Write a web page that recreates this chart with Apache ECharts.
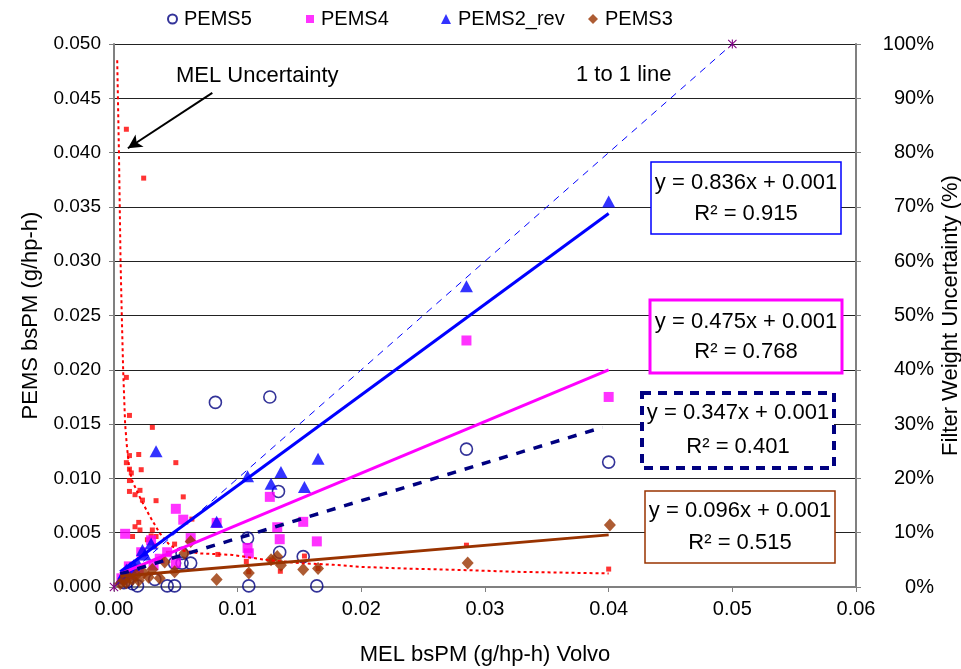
<!DOCTYPE html>
<html><head><meta charset="utf-8">
<script src="https://cdn.jsdelivr.net/npm/echarts@6/dist/echarts.min.js"></script>
<style>html,body{margin:0;padding:0;background:#fff}#c{width:961px;height:669px}</style>
</head><body><div id="c"></div>
<script>
const FONT = 'Liberation Sans, Arial, sans-serif';
const xTickLabels = ['0.00','0.01','0.02','0.03','0.04','0.05','0.06'];
const yTickLabels = ['0.000','0.005','0.010','0.015','0.020','0.025','0.030','0.035','0.040','0.045','0.050'];
const y2TickLabels = ['0%','10%','20%','30%','40%','50%','60%','70%','80%','90%','100%'];

const pems5 = [[0.0008,0.0004],[0.0011,0.0005],[0.0015,0.0003],[0.0019,0.0001],[0.0033,0.0007],[0.0043,0.0001],[0.0049,0.0001],[0.0049,0.0022],[0.0055,0.0031],[0.0055,0.0022],[0.0062,0.0022],[0.0082,0.0170],[0.0108,0.0045],[0.0109,0.0001],[0.0126,0.0175],[0.0133,0.0088],[0.0134,0.0032],[0.0153,0.0028],[0.0164,0.0001],[0.0285,0.0127],[0.0400,0.0115]];
const pems4 = [[0.0006,0.0008],[0.0009,0.0049],[0.0012,0.0019],[0.0015,0.0012],[0.0020,0.0016],[0.0022,0.0032],[0.0030,0.0043],[0.0032,0.0020],[0.0037,0.0026],[0.0043,0.0032],[0.0050,0.0072],[0.0050,0.0022],[0.0056,0.0062],[0.0062,0.0045],[0.0083,0.0059],[0.0108,0.0036],[0.0109,0.0031],[0.0126,0.0083],[0.0132,0.0055],[0.0134,0.0044],[0.0153,0.0060],[0.0164,0.0042],[0.0285,0.0227],[0.0400,0.0175]];
const pems2rev = [[0.0006,0.0008],[0.0008,0.0013],[0.0010,0.0016],[0.0013,0.0018],[0.0016,0.0020],[0.0019,0.0022],[0.0023,0.0034],[0.0025,0.0030],[0.0030,0.0040],[0.0034,0.0125],[0.0083,0.0060],[0.0108,0.0102],[0.0127,0.0095],[0.0135,0.0106],[0.0154,0.0092],[0.0165,0.0118],[0.0285,0.0277],[0.0400,0.0355]];
const pems3 = [[0.0005,0.0003],[0.0008,0.0006],[0.0010,0.0004],[0.0012,0.0009],[0.0015,0.0007],[0.0018,0.0011],[0.0020,0.0006],[0.0024,0.0013],[0.0028,0.0009],[0.0031,0.0016],[0.0037,0.0008],[0.0041,0.0023],[0.0049,0.0014],[0.0057,0.0031],[0.0062,0.0042],[0.0083,0.0007],[0.0109,0.0013],[0.0127,0.0025],[0.0132,0.0028],[0.0135,0.0020],[0.0153,0.0016],[0.0165,0.0017],[0.0286,0.0022],[0.0401,0.0057]];

// MEL filter-weight uncertainty (%), right axis
const melUncPoints = [[0.0010,84.3],[0.0024,75.3],[0.0010,38.6],[0.00125,31.6],[0.0031,29.4],[0.0020,24.4],[0.00125,24.2],[0.0010,22.9],[0.0050,22.9],[0.00125,21.7],[0.0022,21.6],[0.0014,21.0],[0.00125,19.6],[0.00125,17.6],[0.0017,17.0],[0.0021,17.8],[0.0023,16.0],[0.0034,15.9],[0.0056,16.6],[0.0063,12.5],[0.0020,11.9],[0.0017,11.1],[0.0021,10.5],[0.0031,10.5],[0.0015,9.3],[0.0030,9.4],[0.0034,9.3],[0.0027,8.7],[0.0033,7.6],[0.0049,7.9],[0.0044,6.2],[0.0084,6.0],[0.0037,5.0],[0.0107,4.7],[0.0127,5.0],[0.0154,5.7],[0.0109,2.8],[0.01345,2.9],[0.0165,3.4],[0.0285,7.7],[0.0400,3.3]];
const melUncCurve = [[0.00026,97],[0.0004,80],[0.00053,60],[0.00063,50],[0.00074,40],[0.0009,30],[0.00104,26],[0.00125,21.6],[0.0015,19.4],[0.0022,16],[0.0029,13],[0.0037,9.9],[0.0045,7.7],[0.0053,6.8],[0.0069,6.2],[0.0096,5.9],[0.0123,5.0],[0.0150,4.4],[0.0177,4.1],[0.0200,3.7],[0.0236,3.4],[0.0285,3.1],[0.0325,2.8],[0.0400,2.5]];

const oneToOne = [[0,0],[0.05,0.05]];
const trend2 = [[0.0005,0.0014],[0.0400,0.0344]];
const trend4 = [[0.0005,0.0012],[0.0400,0.0200]];
const trend5 = [[0.0005,0.0012],[0.0395,0.0147]];
const trend3 = [[0.0005,0.0010],[0.0400,0.0048]];
const arrowFromTo = [[0.00795,0.0455],[0.00112,0.0404]];

const eqTexts = [
  ['y = 0.836x + 0.001','R\u00B2 = 0.915'],
  ['y = 0.475x + 0.001','R\u00B2 = 0.768'],
  ['y = 0.347x + 0.001','R\u00B2 = 0.401'],
  ['y = 0.096x + 0.001','R\u00B2 = 0.515']
];

const NAVY='#000080', MAG='#FF00FF', BLUE='#0000FF', BROWN='#993300', RED='#FF0000', PURPLE='#800080';
const ASTER = 'path://M4.4,0L5.6,0L5.6,10L4.4,10Z M0.8,0L10,9.2L9.2,10L0,0.8Z M9.2,0L10,0.8L0.8,10L0,9.2Z';

const chart = echarts.init(document.getElementById('c'), null, {renderer:'canvas'});
function legendAt(name, left, size){
  return {show:true, data:[name], left:left, top:4, itemWidth:size, itemHeight:size, itemGap:0,
    textStyle:{fontFamily:FONT, fontSize:20, color:'#000', padding:[0,0,0,2]}, selectedMode:false};
}
const axisGrey = '#808080';
chart.setOption({
  animation:false,
  backgroundColor:'#fff',
  textStyle:{fontFamily:FONT},
  grid:{left:114, right:105, top:44, bottom:82, containLabel:false, outerBoundsMode:'none'},
  legend:[legendAt('PEMS5',162,9), legendAt('PEMS4',301,8), legendAt('PEMS2_rev',436,10), legendAt('PEMS3',583,10)],
  xAxis:{type:'value', min:0, max:0.06, interval:0.01,
    name:'MEL bsPM (g/hp-h) Volvo', nameLocation:'middle', nameGap:57, nameMoveOverlap:false,
    nameTextStyle:{fontFamily:FONT, fontSize:22, color:'#000'},
    axisLine:{show:true, lineStyle:{color:axisGrey, width:2}},
    axisTick:{show:true, length:5, lineStyle:{color:axisGrey, width:1}},
    axisLabel:{fontFamily:FONT, fontSize:20, color:'#000', margin:12,
      formatter:(v)=>xTickLabels[Math.round(v/0.01)]},
    splitLine:{show:false}},
  yAxis:[
    {type:'value', min:0, max:0.05, interval:0.005, position:'left',
     name:'PEMS bsPM (g/hp-h)', nameLocation:'middle', nameGap:72, nameRotate:90, nameMoveOverlap:false,
     nameTextStyle:{fontFamily:FONT, fontSize:22, color:'#000'},
     axisLine:{show:true, onZero:false, lineStyle:{color:axisGrey, width:2}},
     axisTick:{show:true, length:5, lineStyle:{color:axisGrey}},
     axisLabel:{fontFamily:FONT, fontSize:19, color:'#000', margin:13,
       formatter:(v)=>yTickLabels[Math.round(v/0.005)]},
     splitLine:{show:true, lineStyle:{color:'#222', width:1}}},
    {type:'value', min:0, max:100, interval:10, position:'right',
     name:'Filter Weight Uncertainty (%)', nameLocation:'middle', nameGap:84, nameRotate:90, nameMoveOverlap:false,
     nameTextStyle:{fontFamily:FONT, fontSize:22, color:'#000'},
     axisLine:{show:true, onZero:false, lineStyle:{color:axisGrey, width:2}},
     axisTick:{show:true, length:5, lineStyle:{color:axisGrey}},
     axisLabel:{fontFamily:FONT, fontSize:20, color:'#000', margin:78, align:'right',
       formatter:(v)=>y2TickLabels[Math.round(v/10)]},
     splitLine:{show:false}}
  ],
  series:[
    {name:'MEL pts', type:'scatter', yAxisIndex:1, data:melUncPoints, symbol:'rect', symbolSize:5,
     itemStyle:{color:RED}, z:2},
    {name:'PEMS5', type:'scatter', data:pems5, symbol:'circle', symbolSize:12,
     itemStyle:{color:'rgba(255,255,255,0)', borderColor:NAVY, borderWidth:1.6}, z:3},
    {name:'PEMS4', type:'scatter', data:pems4, symbol:'rect', symbolSize:10,
     itemStyle:{color:MAG}, z:3},
    {name:'PEMS2_rev', type:'scatter', data:pems2rev, symbol:'triangle', symbolSize:[13,12],
     itemStyle:{color:BLUE}, z:3},
    {name:'PEMS3', type:'scatter', data:pems3, symbol:'diamond', symbolSize:[12,13],
     itemStyle:{color:BROWN}, z:3},
    {name:'MEL curve', type:'line', yAxisIndex:1, data:melUncCurve, showSymbol:false, symbol:'none',
     lineStyle:{color:RED, width:2, type:[3,3]}, z:4},
    {name:'1 to 1', type:'line', data:oneToOne, symbol:ASTER, symbolSize:9, showSymbol:true,
     itemStyle:{color:PURPLE}, lineStyle:{color:BLUE, width:1, type:[7,6]}, z:4,
     markLine:{silent:true, symbol:['none','arrow'], symbolSize:[11,14],
       label:{show:false}, lineStyle:{color:'#000', width:2, type:'solid'},
       data:[[{coord:arrowFromTo[0]},{coord:arrowFromTo[1]}]]}},
    {name:'t2', type:'line', data:trend2, symbol:'none', lineStyle:{color:BLUE, width:3}, z:5},
    {name:'t4', type:'line', data:trend4, symbol:'none', lineStyle:{color:MAG, width:3}, z:5},
    {name:'t5', type:'line', data:trend5, symbol:'none', lineStyle:{color:NAVY, width:3.5, type:[9,9]}, z:5},
    {name:'t3', type:'line', data:trend3, symbol:'none', lineStyle:{color:BROWN, width:3}, z:5}
  ],
  graphic:[
    {type:'text', x:176, y:76, z:100, style:{text:'MEL Uncertainty', font:'22px '+FONT, fill:'#000', align:'left', verticalAlign:'middle'}},
    {type:'text', x:576, y:75, z:100, style:{text:'1 to 1 line', font:'22px '+FONT, fill:'#000', align:'left', verticalAlign:'middle'}},
    {type:'rect', z:100, shape:{x:651, y:162, width:190, height:72}, style:{fill:'#fff', stroke:BLUE, lineWidth:1.5}},
    {type:'text', x:746, y:183, z:101, style:{text:eqTexts[0][0], font:'22px '+FONT, fill:'#000', align:'center', verticalAlign:'middle'}},
    {type:'text', x:746, y:214, z:101, style:{text:eqTexts[0][1], font:'22px '+FONT, fill:'#000', align:'center', verticalAlign:'middle'}},
    {type:'rect', z:100, shape:{x:650, y:300, width:192, height:73}, style:{fill:'#fff', stroke:MAG, lineWidth:3}},
    {type:'text', x:746, y:322, z:101, style:{text:eqTexts[1][0], font:'22px '+FONT, fill:'#000', align:'center', verticalAlign:'middle'}},
    {type:'text', x:746, y:352, z:101, style:{text:eqTexts[1][1], font:'22px '+FONT, fill:'#000', align:'center', verticalAlign:'middle'}},
    {type:'rect', z:100, shape:{x:642, y:393, width:192, height:75}, style:{fill:'#fff', stroke:NAVY, lineWidth:4, lineDash:[9,7]}},
    {type:'text', x:738, y:413, z:101, style:{text:eqTexts[2][0], font:'22px '+FONT, fill:'#000', align:'center', verticalAlign:'middle'}},
    {type:'text', x:738, y:447, z:101, style:{text:eqTexts[2][1], font:'22px '+FONT, fill:'#000', align:'center', verticalAlign:'middle'}},
    {type:'rect', z:100, shape:{x:645, y:491, width:190, height:72}, style:{fill:'#fff', stroke:BROWN, lineWidth:1.5}},
    {type:'text', x:740, y:511, z:101, style:{text:eqTexts[3][0], font:'22px '+FONT, fill:'#000', align:'center', verticalAlign:'middle'}},
    {type:'text', x:740, y:543, z:101, style:{text:eqTexts[3][1], font:'22px '+FONT, fill:'#000', align:'center', verticalAlign:'middle'}}
  ]
});
</script></body></html>
